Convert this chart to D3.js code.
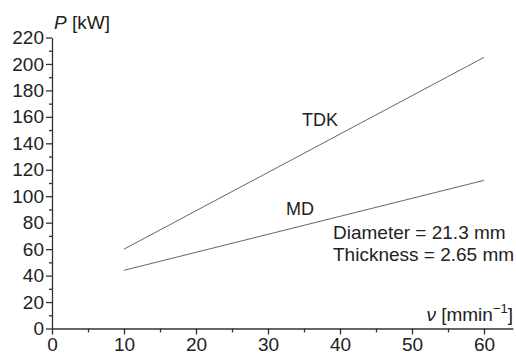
<!DOCTYPE html>
<html>
<head>
<meta charset="utf-8">
<script src="https://cdn.jsdelivr.net/npm/d3@7"></script>
<style>
  body { margin: 0; background: #fff; }
  text { font-family: "Liberation Sans", Arial, sans-serif; fill: #222; }
</style>
</head>
<body>
<div id="chart"></div>
<script>
// data
var speed = [10, 60];
var tdkPower = [60, 205];
var mdPower = [44, 112];
var xTicks = [0, 10, 20, 30, 40, 50, 60];
var yTicks = [0, 20, 40, 60, 80, 100, 120, 140, 160, 180, 200, 220];

var W = 516, H = 358;
var svg = d3.select("#chart").append("svg")
    .attr("width", W)
    .attr("height", H);

var x = d3.scaleLinear().domain([0, 64]).range([52, 512.8]);
var y = d3.scaleLinear().domain([0, 220]).range([328.5, 37.5]);

// x axis
svg.append("g")
    .attr("transform", "translate(0," + y(0) + ")")
    .call(d3.axisBottom(x).tickValues(xTicks).tickSize(6).tickPadding(3).tickSizeOuter(0));
svg.append("g")
    .attr("transform", "translate(0," + y(0) + ")")
    .call(d3.axisBottom(x).tickValues(d3.range(5, 64, 10)).tickSize(4).tickFormat("").tickSizeOuter(0))
    .select(".domain").remove();

// y axis
svg.append("g")
    .attr("transform", "translate(" + x(0) + ",0)")
    .call(d3.axisLeft(y).tickValues(yTicks).tickSize(6).tickPadding(2).tickSizeOuter(0));
svg.append("g")
    .attr("transform", "translate(" + x(0) + ",0)")
    .call(d3.axisLeft(y).tickValues(d3.range(10, 220, 20)).tickSize(3).tickFormat("").tickSizeOuter(0))
    .select(".domain").remove();

svg.selectAll(".domain, .tick line").attr("stroke", "#333").attr("stroke-width", 1.3);
svg.selectAll(".tick text")
    .style("font-family", "'Liberation Sans', Arial, sans-serif")
    .style("font-size", "19px")
    .attr("fill", "#222");

// lines
var line = d3.line()
    .x(function(d) { return x(d[0]); })
    .y(function(d) { return y(d[1]); });

[tdkPower, mdPower].forEach(function(p) {
  svg.append("path")
    .datum(speed.map(function(v, i) { return [v, p[i]]; }))
    .attr("d", line)
    .attr("fill", "none")
    .attr("stroke", "#666")
    .attr("stroke-width", 1);
});

// labels
var lab = svg.append("g").style("font-size", "19px");
lab.append("text").attr("x", 302).attr("y", 126).style("font-size", "18px").text("TDK");
lab.append("text").attr("x", 286).attr("y", 215).style("font-size", "18px").text("MD");
lab.append("text").attr("x", 333).attr("y", 239).text("Diameter = 21.3 mm");
lab.append("text").attr("x", 333).attr("y", 261).text("Thickness = 2.65 mm");

var pl = lab.append("text").attr("x", 54).attr("y", 29);
pl.append("tspan").style("font-style", "italic").text("P");
pl.append("tspan").text(" [kW]");

var vl = lab.append("text").attr("x", 513).attr("y", 321).attr("text-anchor", "end");
vl.append("tspan").style("font-style", "italic").text("ν");
vl.append("tspan").text(" [mmin");
vl.append("tspan").attr("dy", -8).style("font-size", "13px").text("−1");
vl.append("tspan").attr("dy", 8).text("]");
</script>
</body>
</html>
